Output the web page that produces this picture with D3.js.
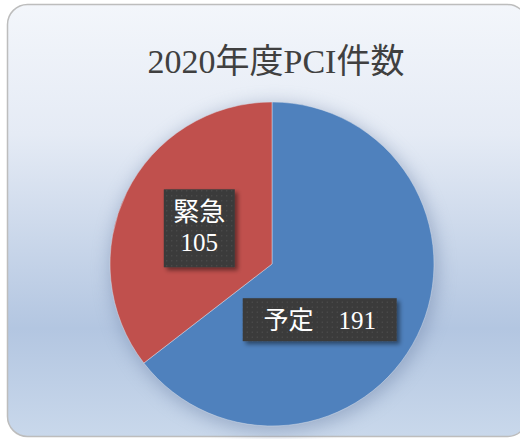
<!DOCTYPE html>
<html>
<head>
  <meta charset="utf-8">
  <script src="https://d3js.org/d3.v7.min.js"></script>
  <style>
    body { margin: 0; background: #fff; }
    text { font-family: "Liberation Serif", "Noto Sans CJK JP", serif; }
  </style>
</head>
<body>
  <svg id="chart" width="520" height="439"></svg>
  <script>
    // chart data
    const title = "2020年度PCI件数";
    const categories = ["予定", "緊急"];
    const values = [191, 105];
    const colors = ["#4f81bd", "#c0504d"];

    const svg = d3.select("#chart");
    const defs = svg.append("defs");

    // background gradient of the chart area
    const bg = defs.append("linearGradient")
      .attr("id", "bg").attr("x1", 0).attr("y1", 0).attr("x2", 0).attr("y2", 1);
    bg.append("stop").attr("offset", "0%").attr("stop-color", "#f3f6fb");
    bg.append("stop").attr("offset", "30%").attr("stop-color", "#e5ebf5");
    bg.append("stop").attr("offset", "75%").attr("stop-color", "#b3c6e1");
    bg.append("stop").attr("offset", "100%").attr("stop-color", "#c9d8eb");

    // soft shadow under the pie
    const glow = defs.append("filter").attr("id", "glow")
      .attr("x", "-30%").attr("y", "-30%").attr("width", "160%").attr("height", "160%");
    glow.append("feGaussianBlur").attr("stdDeviation", 9);

    // label box shadow
    const shadow = defs.append("filter").attr("id", "boxShadow")
      .attr("x", "-20%").attr("y", "-20%").attr("width", "150%").attr("height", "160%");
    shadow.append("feDropShadow").attr("dx", 3).attr("dy", 3)
      .attr("stdDeviation", 2).attr("flood-color", "#000").attr("flood-opacity", 0.45);

    // dotted dark fill of the data labels
    const pat = defs.append("pattern").attr("id", "dots")
      .attr("patternUnits", "userSpaceOnUse").attr("width", 5).attr("height", 5);
    pat.append("rect").attr("width", 5).attr("height", 5).attr("fill", "#3b3b3b");
    pat.append("rect").attr("x", 2).attr("y", 2).attr("width", 1).attr("height", 1).attr("fill", "#5a5a5a");

    // chart frame
    svg.append("rect")
      .attr("x", 7.5).attr("y", 4.5)
      .attr("width", 520).attr("height", 432)
      .attr("rx", 20).attr("ry", 20)
      .attr("fill", "url(#bg)")
      .attr("stroke", "#bdbdbd")
      .attr("stroke-width", 1.5);

    svg.append("text")
      .attr("x", 276).attr("y", 73)
      .attr("text-anchor", "middle")
      .attr("fill", "#404040")
      .style("font-size", "34px")
      .text(title);

    const cx = 272, cy = 264, radius = 162;
    const g = svg.append("g").attr("transform", `translate(${cx},${cy})`);

    g.append("circle")
      .attr("cx", 2).attr("cy", 4).attr("r", radius + 2)
      .attr("fill", "#6f84a8").attr("opacity", 0.5)
      .attr("filter", "url(#glow)");

    const pie = d3.pie().sort(null).value(d => d)(values);
    const arc = d3.arc().innerRadius(0).outerRadius(radius);

    g.selectAll("path.slice")
      .data(pie)
      .enter()
      .append("path")
      .attr("class", "slice")
      .attr("d", arc)
      .attr("fill", (d, i) => colors[i])
      .attr("stroke", "rgba(220,225,235,0.6)")
      .attr("stroke-width", 0.8);

    // data labels (positioned from the arc centroid, nudged like Excel's best fit)
    const labelArc = d3.arc().innerRadius(radius * 0.5).outerRadius(radius * 0.5);
    const nudge = [[-25, 20], [0, 0]];

    pie.forEach((d, i) => {
      const c = labelArc.centroid(d);
      const x = c[0] + nudge[i][0], y = c[1] + nudge[i][1];
      const lg = g.append("g").attr("transform", `translate(${x},${y})`);
      if (i === 0) {
        const w = 154, h = 43;
        lg.append("rect").attr("x", -w / 2).attr("y", -h / 2)
          .attr("width", w).attr("height", h)
          .attr("fill", "url(#dots)").attr("filter", "url(#boxShadow)");
        lg.append("text").attr("text-anchor", "middle").attr("y", 9)
          .attr("fill", "#fff").style("font-size", "25px")
          .text(categories[i] + "\u3000" + values[i]);
      } else {
        const w = 71, h = 78;
        lg.append("rect").attr("x", -w / 2).attr("y", -h / 2)
          .attr("width", w).attr("height", h)
          .attr("fill", "url(#dots)").attr("filter", "url(#boxShadow)");
        lg.append("text").attr("text-anchor", "middle").attr("y", -7)
          .attr("fill", "#fff").style("font-size", "26px")
          .text(categories[i]);
        lg.append("text").attr("text-anchor", "middle").attr("y", 23)
          .attr("fill", "#fff").style("font-size", "25px")
          .text(values[i]);
      }
    });
  </script>
</body>
</html>
